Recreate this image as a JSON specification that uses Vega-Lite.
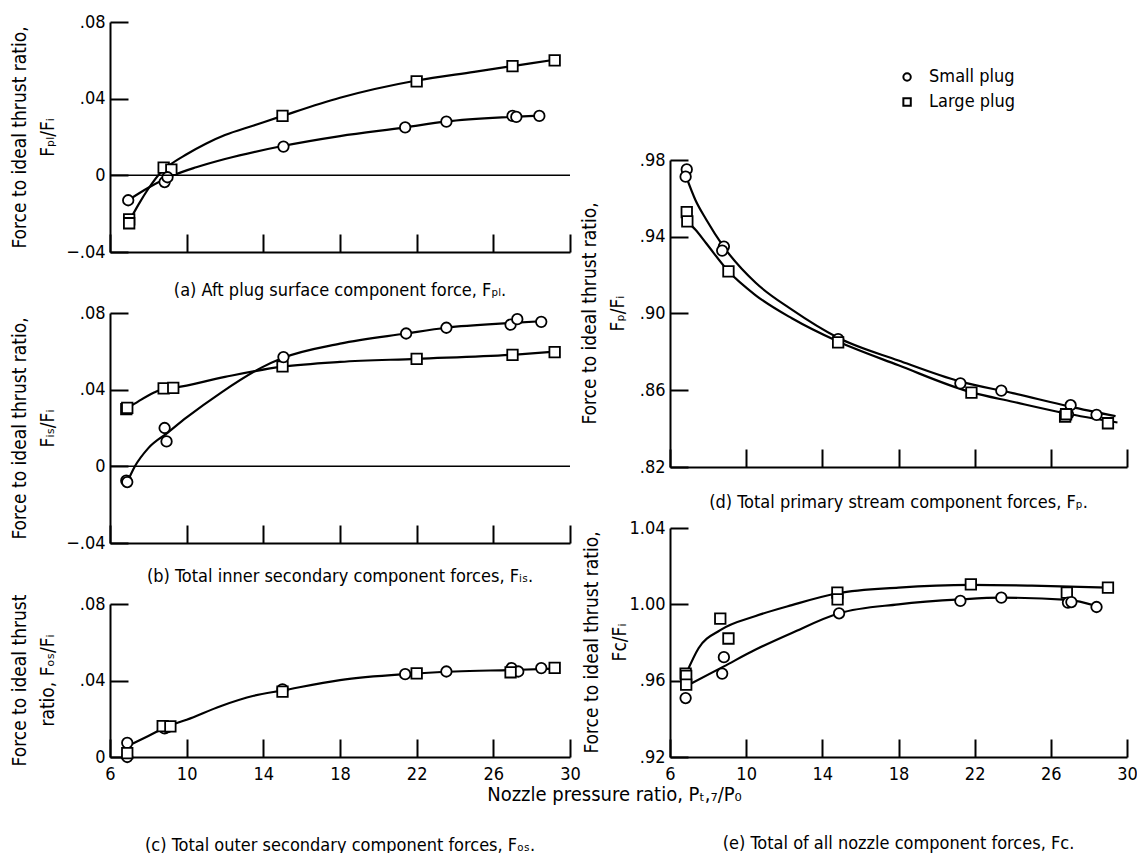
{
  "$schema": "https://vega.github.io/schema/vega-lite/v6.json",
  "padding": {"left": 9, "top": 13, "right": 0, "bottom": 0},
  "background": "white",
  "config": {
    "font": "DejaVu Sans Condensed, Roboto Condensed, Roboto, sans-serif",
    "view": {"stroke": null},
    "axis": {
      "domainColor": "black", "domainWidth": 2, "tickColor": "black", "tickWidth": 2, "tickSize": -18,
      "labelColor": "black", "labelFontSize": 18, "titleColor": "black", "titleFontSize": 19,
      "titleFontWeight": "normal", "grid": false, "labelFlush": false, "labelOverlap": false
    },
    "axisX": {"labelPadding": 26},
    "axisY": {"labelPadding": 23, "titleAngle": -90, "titleAlign": "center", "titleBaseline": "top", "titleLineHeight": 28},
    "title": {"fontSize": 18, "fontWeight": "normal", "color": "black", "orient": "bottom", "anchor": "middle", "frame": "group"}
  },
  "datasets": {
    "pts": [
      {"panel": "a", "plug": "Large plug", "x": 7.0, "y": -0.023},
      {"panel": "a", "plug": "Large plug", "x": 7.0, "y": -0.025},
      {"panel": "a", "plug": "Large plug", "x": 8.8, "y": 0.004},
      {"panel": "a", "plug": "Large plug", "x": 9.2, "y": 0.003},
      {"panel": "a", "plug": "Large plug", "x": 15.0, "y": 0.031},
      {"panel": "a", "plug": "Large plug", "x": 22.0, "y": 0.049},
      {"panel": "a", "plug": "Large plug", "x": 27.0, "y": 0.057},
      {"panel": "a", "plug": "Large plug", "x": 29.2, "y": 0.060},
      {"panel": "a", "plug": "Small plug", "x": 6.95, "y": -0.013},
      {"panel": "a", "plug": "Small plug", "x": 8.85, "y": -0.0035},
      {"panel": "a", "plug": "Small plug", "x": 9.0, "y": -0.001},
      {"panel": "a", "plug": "Small plug", "x": 15.05, "y": 0.015},
      {"panel": "a", "plug": "Small plug", "x": 21.4, "y": 0.025},
      {"panel": "a", "plug": "Small plug", "x": 23.55, "y": 0.028},
      {"panel": "a", "plug": "Small plug", "x": 27.0, "y": 0.031},
      {"panel": "a", "plug": "Small plug", "x": 27.2, "y": 0.0305},
      {"panel": "a", "plug": "Small plug", "x": 28.4, "y": 0.031},

      {"panel": "b", "plug": "Large plug", "x": 6.85, "y": 0.0298},
      {"panel": "b", "plug": "Large plug", "x": 6.9, "y": 0.0305},
      {"panel": "b", "plug": "Large plug", "x": 8.8, "y": 0.0407},
      {"panel": "b", "plug": "Large plug", "x": 9.3, "y": 0.0409},
      {"panel": "b", "plug": "Large plug", "x": 15.0, "y": 0.0521},
      {"panel": "b", "plug": "Large plug", "x": 22.0, "y": 0.0561},
      {"panel": "b", "plug": "Large plug", "x": 27.0, "y": 0.0582},
      {"panel": "b", "plug": "Large plug", "x": 29.2, "y": 0.0596},
      {"panel": "b", "plug": "Small plug", "x": 6.85, "y": -0.0075},
      {"panel": "b", "plug": "Small plug", "x": 6.9, "y": -0.0082},
      {"panel": "b", "plug": "Small plug", "x": 8.85, "y": 0.020},
      {"panel": "b", "plug": "Small plug", "x": 8.95, "y": 0.013},
      {"panel": "b", "plug": "Small plug", "x": 15.05, "y": 0.057},
      {"panel": "b", "plug": "Small plug", "x": 21.45, "y": 0.0693},
      {"panel": "b", "plug": "Small plug", "x": 23.55, "y": 0.0723},
      {"panel": "b", "plug": "Small plug", "x": 26.9, "y": 0.0739},
      {"panel": "b", "plug": "Small plug", "x": 27.25, "y": 0.0768},
      {"panel": "b", "plug": "Small plug", "x": 28.5, "y": 0.0754},

      {"panel": "c", "plug": "Small plug", "x": 6.9, "y": 0.0074},
      {"panel": "c", "plug": "Small plug", "x": 6.9, "y": 0.0},
      {"panel": "c", "plug": "Small plug", "x": 8.85, "y": 0.015},
      {"panel": "c", "plug": "Small plug", "x": 9.0, "y": 0.0156},
      {"panel": "c", "plug": "Small plug", "x": 15.0, "y": 0.0354},
      {"panel": "c", "plug": "Small plug", "x": 21.4, "y": 0.0433},
      {"panel": "c", "plug": "Small plug", "x": 23.55, "y": 0.0447},
      {"panel": "c", "plug": "Small plug", "x": 26.95, "y": 0.0465},
      {"panel": "c", "plug": "Small plug", "x": 27.3, "y": 0.0447},
      {"panel": "c", "plug": "Small plug", "x": 28.5, "y": 0.0465},
      {"panel": "c", "plug": "Large plug", "x": 6.9, "y": 0.002},
      {"panel": "c", "plug": "Large plug", "x": 8.75, "y": 0.0161},
      {"panel": "c", "plug": "Large plug", "x": 9.15, "y": 0.016},
      {"panel": "c", "plug": "Large plug", "x": 15.0, "y": 0.0342},
      {"panel": "c", "plug": "Large plug", "x": 22.0, "y": 0.0437},
      {"panel": "c", "plug": "Large plug", "x": 26.9, "y": 0.0443},
      {"panel": "c", "plug": "Large plug", "x": 29.2, "y": 0.0466},

      {"panel": "d", "plug": "Small plug", "x": 6.88, "y": 0.9751},
      {"panel": "d", "plug": "Small plug", "x": 6.82, "y": 0.9713},
      {"panel": "d", "plug": "Small plug", "x": 8.83, "y": 0.9349},
      {"panel": "d", "plug": "Small plug", "x": 8.74, "y": 0.9328},
      {"panel": "d", "plug": "Small plug", "x": 14.83, "y": 0.8867},
      {"panel": "d", "plug": "Small plug", "x": 21.25, "y": 0.8636},
      {"panel": "d", "plug": "Small plug", "x": 23.4, "y": 0.8598},
      {"panel": "d", "plug": "Small plug", "x": 27.04, "y": 0.8522},
      {"panel": "d", "plug": "Small plug", "x": 26.9, "y": 0.8475},
      {"panel": "d", "plug": "Small plug", "x": 28.4, "y": 0.8472},
      {"panel": "d", "plug": "Large plug", "x": 6.88, "y": 0.9528},
      {"panel": "d", "plug": "Large plug", "x": 6.91, "y": 0.948},
      {"panel": "d", "plug": "Large plug", "x": 9.07, "y": 0.922},
      {"panel": "d", "plug": "Large plug", "x": 14.83, "y": 0.885},
      {"panel": "d", "plug": "Large plug", "x": 21.83, "y": 0.8588},
      {"panel": "d", "plug": "Large plug", "x": 26.75, "y": 0.8462},
      {"panel": "d", "plug": "Large plug", "x": 26.8, "y": 0.8475},
      {"panel": "d", "plug": "Large plug", "x": 29.0, "y": 0.8428},

      {"panel": "e", "plug": "Large plug", "x": 6.82, "y": 0.9637},
      {"panel": "e", "plug": "Large plug", "x": 6.85, "y": 0.9625},
      {"panel": "e", "plug": "Large plug", "x": 6.85, "y": 0.9579},
      {"panel": "e", "plug": "Large plug", "x": 8.64, "y": 0.9925},
      {"panel": "e", "plug": "Large plug", "x": 9.07, "y": 0.9821},
      {"panel": "e", "plug": "Large plug", "x": 14.79, "y": 1.0061},
      {"panel": "e", "plug": "Large plug", "x": 14.8, "y": 1.0026},
      {"panel": "e", "plug": "Large plug", "x": 21.8, "y": 1.0105},
      {"panel": "e", "plug": "Large plug", "x": 26.84, "y": 1.0061},
      {"panel": "e", "plug": "Large plug", "x": 29.0, "y": 1.0088},
      {"panel": "e", "plug": "Small plug", "x": 6.82, "y": 0.9509},
      {"panel": "e", "plug": "Small plug", "x": 8.74, "y": 0.9637},
      {"panel": "e", "plug": "Small plug", "x": 8.83, "y": 0.9723},
      {"panel": "e", "plug": "Small plug", "x": 14.88, "y": 0.9953},
      {"panel": "e", "plug": "Small plug", "x": 21.25, "y": 1.0018},
      {"panel": "e", "plug": "Small plug", "x": 23.4, "y": 1.0035},
      {"panel": "e", "plug": "Small plug", "x": 26.9, "y": 1.0009},
      {"panel": "e", "plug": "Small plug", "x": 27.08, "y": 1.0012},
      {"panel": "e", "plug": "Small plug", "x": 28.4, "y": 0.9986}
    ],
    "curves": [
      {"panel": "a", "plug": "Large plug", "x": 7.0, "y": -0.024},
      {"panel": "a", "plug": "Large plug", "x": 7.5, "y": -0.015},
      {"panel": "a", "plug": "Large plug", "x": 8.0, "y": -0.007},
      {"panel": "a", "plug": "Large plug", "x": 8.6, "y": 0.001},
      {"panel": "a", "plug": "Large plug", "x": 9.2, "y": 0.006},
      {"panel": "a", "plug": "Large plug", "x": 10.0, "y": 0.011},
      {"panel": "a", "plug": "Large plug", "x": 11.0, "y": 0.0165},
      {"panel": "a", "plug": "Large plug", "x": 12.0, "y": 0.021},
      {"panel": "a", "plug": "Large plug", "x": 13.5, "y": 0.026},
      {"panel": "a", "plug": "Large plug", "x": 15.0, "y": 0.031},
      {"panel": "a", "plug": "Large plug", "x": 18.0, "y": 0.0405},
      {"panel": "a", "plug": "Large plug", "x": 22.0, "y": 0.0495},
      {"panel": "a", "plug": "Large plug", "x": 25.0, "y": 0.054},
      {"panel": "a", "plug": "Large plug", "x": 27.0, "y": 0.057},
      {"panel": "a", "plug": "Large plug", "x": 29.2, "y": 0.0603},
      {"panel": "a", "plug": "Small plug", "x": 6.95, "y": -0.013},
      {"panel": "a", "plug": "Small plug", "x": 8.0, "y": -0.0065},
      {"panel": "a", "plug": "Small plug", "x": 9.3, "y": 0.0},
      {"panel": "a", "plug": "Small plug", "x": 10.5, "y": 0.0042},
      {"panel": "a", "plug": "Small plug", "x": 12.0, "y": 0.0085},
      {"panel": "a", "plug": "Small plug", "x": 15.0, "y": 0.0153},
      {"panel": "a", "plug": "Small plug", "x": 18.0, "y": 0.0205},
      {"panel": "a", "plug": "Small plug", "x": 21.4, "y": 0.025},
      {"panel": "a", "plug": "Small plug", "x": 23.5, "y": 0.028},
      {"panel": "a", "plug": "Small plug", "x": 27.0, "y": 0.0305},
      {"panel": "a", "plug": "Small plug", "x": 28.4, "y": 0.0312},

      {"panel": "b", "plug": "Large plug", "x": 6.87, "y": 0.030},
      {"panel": "b", "plug": "Large plug", "x": 7.5, "y": 0.034},
      {"panel": "b", "plug": "Large plug", "x": 8.3, "y": 0.0385},
      {"panel": "b", "plug": "Large plug", "x": 8.8, "y": 0.0405},
      {"panel": "b", "plug": "Large plug", "x": 9.3, "y": 0.041},
      {"panel": "b", "plug": "Large plug", "x": 12.0, "y": 0.0467},
      {"panel": "b", "plug": "Large plug", "x": 15.0, "y": 0.052},
      {"panel": "b", "plug": "Large plug", "x": 18.0, "y": 0.0545},
      {"panel": "b", "plug": "Large plug", "x": 22.0, "y": 0.0561},
      {"panel": "b", "plug": "Large plug", "x": 27.0, "y": 0.0582},
      {"panel": "b", "plug": "Large plug", "x": 29.2, "y": 0.0598},
      {"panel": "b", "plug": "Small plug", "x": 6.87, "y": -0.009},
      {"panel": "b", "plug": "Small plug", "x": 7.3, "y": 0.0},
      {"panel": "b", "plug": "Small plug", "x": 8.0, "y": 0.0095},
      {"panel": "b", "plug": "Small plug", "x": 9.0, "y": 0.0175},
      {"panel": "b", "plug": "Small plug", "x": 10.0, "y": 0.0255},
      {"panel": "b", "plug": "Small plug", "x": 11.8, "y": 0.0385},
      {"panel": "b", "plug": "Small plug", "x": 13.9, "y": 0.0515},
      {"panel": "b", "plug": "Small plug", "x": 15.0, "y": 0.0565},
      {"panel": "b", "plug": "Small plug", "x": 18.0, "y": 0.064},
      {"panel": "b", "plug": "Small plug", "x": 21.45, "y": 0.0693},
      {"panel": "b", "plug": "Small plug", "x": 23.55, "y": 0.0723},
      {"panel": "b", "plug": "Small plug", "x": 27.0, "y": 0.0748},
      {"panel": "b", "plug": "Small plug", "x": 28.5, "y": 0.0757},

      {"panel": "c", "plug": "Both", "x": 6.9, "y": 0.0056},
      {"panel": "c", "plug": "Both", "x": 8.0, "y": 0.011},
      {"panel": "c", "plug": "Both", "x": 9.0, "y": 0.016},
      {"panel": "c", "plug": "Both", "x": 10.0, "y": 0.0195},
      {"panel": "c", "plug": "Both", "x": 11.8, "y": 0.0267},
      {"panel": "c", "plug": "Both", "x": 13.5, "y": 0.032},
      {"panel": "c", "plug": "Both", "x": 15.0, "y": 0.0348},
      {"panel": "c", "plug": "Both", "x": 18.0, "y": 0.0402},
      {"panel": "c", "plug": "Both", "x": 21.4, "y": 0.0433},
      {"panel": "c", "plug": "Both", "x": 24.0, "y": 0.0447},
      {"panel": "c", "plug": "Both", "x": 27.0, "y": 0.0455},
      {"panel": "c", "plug": "Both", "x": 29.2, "y": 0.0462},

      {"panel": "d", "plug": "Small plug", "x": 6.85, "y": 0.9713},
      {"panel": "d", "plug": "Small plug", "x": 7.34, "y": 0.959},
      {"panel": "d", "plug": "Small plug", "x": 7.9, "y": 0.949},
      {"panel": "d", "plug": "Small plug", "x": 8.8, "y": 0.935},
      {"panel": "d", "plug": "Small plug", "x": 10.5, "y": 0.916},
      {"panel": "d", "plug": "Small plug", "x": 12.4, "y": 0.902},
      {"panel": "d", "plug": "Small plug", "x": 14.8, "y": 0.8875},
      {"panel": "d", "plug": "Small plug", "x": 18.0, "y": 0.8755},
      {"panel": "d", "plug": "Small plug", "x": 21.25, "y": 0.8645},
      {"panel": "d", "plug": "Small plug", "x": 24.0, "y": 0.8585},
      {"panel": "d", "plug": "Small plug", "x": 27.0, "y": 0.8515},
      {"panel": "d", "plug": "Small plug", "x": 29.4, "y": 0.8465},
      {"panel": "d", "plug": "Large plug", "x": 6.9, "y": 0.948},
      {"panel": "d", "plug": "Large plug", "x": 7.34, "y": 0.9436},
      {"panel": "d", "plug": "Large plug", "x": 7.9, "y": 0.9366},
      {"panel": "d", "plug": "Large plug", "x": 9.07, "y": 0.922},
      {"panel": "d", "plug": "Large plug", "x": 10.5, "y": 0.9095},
      {"panel": "d", "plug": "Large plug", "x": 12.4, "y": 0.8975},
      {"panel": "d", "plug": "Large plug", "x": 14.8, "y": 0.8855},
      {"panel": "d", "plug": "Large plug", "x": 18.0, "y": 0.873},
      {"panel": "d", "plug": "Large plug", "x": 21.8, "y": 0.859},
      {"panel": "d", "plug": "Large plug", "x": 24.0, "y": 0.854},
      {"panel": "d", "plug": "Large plug", "x": 26.75, "y": 0.848},
      {"panel": "d", "plug": "Large plug", "x": 29.5, "y": 0.8432},

      {"panel": "e", "plug": "Large plug", "x": 6.85, "y": 0.9637},
      {"panel": "e", "plug": "Large plug", "x": 7.5, "y": 0.977},
      {"panel": "e", "plug": "Large plug", "x": 8.64, "y": 0.9865},
      {"panel": "e", "plug": "Large plug", "x": 10.5, "y": 0.9939},
      {"panel": "e", "plug": "Large plug", "x": 12.4, "y": 0.9996},
      {"panel": "e", "plug": "Large plug", "x": 14.8, "y": 1.0058},
      {"panel": "e", "plug": "Large plug", "x": 18.0, "y": 1.0088},
      {"panel": "e", "plug": "Large plug", "x": 21.8, "y": 1.0102},
      {"panel": "e", "plug": "Large plug", "x": 25.0, "y": 1.0098},
      {"panel": "e", "plug": "Large plug", "x": 29.0, "y": 1.0088},
      {"panel": "e", "plug": "Small plug", "x": 6.82, "y": 0.957},
      {"panel": "e", "plug": "Small plug", "x": 8.83, "y": 0.9675},
      {"panel": "e", "plug": "Small plug", "x": 10.5, "y": 0.9763},
      {"panel": "e", "plug": "Small plug", "x": 12.4, "y": 0.985},
      {"panel": "e", "plug": "Small plug", "x": 14.88, "y": 0.9953},
      {"panel": "e", "plug": "Small plug", "x": 18.0, "y": 1.0},
      {"panel": "e", "plug": "Small plug", "x": 21.25, "y": 1.0026},
      {"panel": "e", "plug": "Small plug", "x": 23.4, "y": 1.0035},
      {"panel": "e", "plug": "Small plug", "x": 26.9, "y": 1.0023},
      {"panel": "e", "plug": "Small plug", "x": 28.4, "y": 0.9991}
    ],
    "legend": [
      {"plug": "Small plug"},
      {"plug": "Large plug"}
    ]
  },
  "bounds": "flush",
  "spacing": 560,
  "hconcat": [
    {
      "bounds": "flush",
      "spacing": 61,
      "vconcat": [
        {
          "width": 460, "height": 230,
          "title": {"text": "(a) Aft plug surface component force, Fₚₗ.", "offset": 21},
          "layer": [
            {"data": {"name": "curves"}, "transform": [{"filter": "datum.panel === 'a'"}],
             "mark": {"type": "line", "interpolate": "monotone", "color": "black", "strokeWidth": 2.2},
             "encoding": {
               "x": {"field": "x", "type": "quantitative", "scale": {"domain": [6, 30], "nice": false, "zero": false}, "axis": {"values": [6, 10, 14, 18, 22, 26, 30], "labels": false, "title": null}},
               "y": {"field": "y", "type": "quantitative", "scale": {"domain": [-0.04, 0.08], "nice": false, "zero": false}, "axis": {"values": [-0.04, 0, 0.04, 0.08], "labelExpr": "datum.value == 0 ? '0' : replace(format(datum.value, '.2f'), '0.', '.')", "title": ["Force to ideal thrust ratio,", "Fₚₗ/Fᵢ"], "titleX": -100, "titleY": 115}},
               "detail": {"field": "plug"}}},
            {"data": {"name": "pts"}, "transform": [{"filter": "datum.panel === 'a'"}],
             "mark": {"type": "point", "filled": true, "fill": "white", "stroke": "black", "strokeWidth": 1.8, "size": 110, "opacity": 1},
             "encoding": {
               "x": {"field": "x", "type": "quantitative", "scale": {"domain": [6, 30], "nice": false, "zero": false}, "axis": {"values": [6, 10, 14, 18, 22, 26, 30], "labels": false, "title": null}},
               "y": {"field": "y", "type": "quantitative", "scale": {"domain": [-0.04, 0.08], "nice": false, "zero": false}, "axis": {"values": [-0.04, 0, 0.04, 0.08], "labelExpr": "datum.value == 0 ? '0' : replace(format(datum.value, '.2f'), '0.', '.')", "title": ["Force to ideal thrust ratio,", "Fₚₗ/Fᵢ"], "titleX": -100, "titleY": 115}},
               "shape": {"field": "plug", "type": "nominal", "scale": {"domain": ["Small plug", "Large plug"], "range": ["circle", "square"]}, "legend": null}}},
            {"data": {"values": [{}]}, "mark": {"type": "rule", "color": "black", "strokeWidth": 1.5}, "encoding": {"y": {"datum": 0}}}
          ]
        },
        {
          "width": 460, "height": 230,
          "title": {"text": "(b) Total inner secondary component forces, Fᵢₛ.", "offset": 16},
          "layer": [
            {"data": {"name": "curves"}, "transform": [{"filter": "datum.panel === 'b'"}],
             "mark": {"type": "line", "interpolate": "monotone", "color": "black", "strokeWidth": 2.2},
             "encoding": {
               "x": {"field": "x", "type": "quantitative", "scale": {"domain": [6, 30], "nice": false, "zero": false}, "axis": {"values": [6, 10, 14, 18, 22, 26, 30], "labels": false, "title": null}},
               "y": {"field": "y", "type": "quantitative", "scale": {"domain": [-0.04, 0.08], "nice": false, "zero": false}, "axis": {"values": [-0.04, 0, 0.04, 0.08], "labelExpr": "datum.value == 0 ? '0' : replace(format(datum.value, '.2f'), '0.', '.')", "title": ["Force to ideal thrust ratio,", "Fᵢₛ/Fᵢ"], "titleX": -100, "titleY": 115}},
               "detail": {"field": "plug"}}},
            {"data": {"name": "pts"}, "transform": [{"filter": "datum.panel === 'b'"}],
             "mark": {"type": "point", "filled": true, "fill": "white", "stroke": "black", "strokeWidth": 1.8, "size": 110, "opacity": 1},
             "encoding": {
               "x": {"field": "x", "type": "quantitative", "scale": {"domain": [6, 30], "nice": false, "zero": false}, "axis": {"values": [6, 10, 14, 18, 22, 26, 30], "labels": false, "title": null}},
               "y": {"field": "y", "type": "quantitative", "scale": {"domain": [-0.04, 0.08], "nice": false, "zero": false}, "axis": {"values": [-0.04, 0, 0.04, 0.08], "labelExpr": "datum.value == 0 ? '0' : replace(format(datum.value, '.2f'), '0.', '.')", "title": ["Force to ideal thrust ratio,", "Fᵢₛ/Fᵢ"], "titleX": -100, "titleY": 115}},
               "shape": {"field": "plug", "type": "nominal", "scale": {"domain": ["Small plug", "Large plug"], "range": ["circle", "square"]}, "legend": null}}},
            {"data": {"values": [{}]}, "mark": {"type": "rule", "color": "black", "strokeWidth": 1.5}, "encoding": {"y": {"datum": 0}}}
          ]
        },
        {
          "width": 460, "height": 153,
          "title": {"text": "(c) Total outer secondary component forces, Fₒₛ.", "offset": 33},
          "layer": [
            {"data": {"name": "curves"}, "transform": [{"filter": "datum.panel === 'c'"}],
             "mark": {"type": "line", "interpolate": "monotone", "color": "black", "strokeWidth": 2.2},
             "encoding": {
               "x": {"field": "x", "type": "quantitative", "scale": {"domain": [6, 30], "nice": false, "zero": false}, "axis": {"values": [6, 10, 14, 18, 22, 26, 30], "title": "Nozzle pressure ratio, Pₜ,₇/P₀", "titleX": 504, "titleY": 37, "titleAngle": 0, "titleAlign": "center", "titleBaseline": "middle", "titleFontSize": 20}},
               "y": {"field": "y", "type": "quantitative", "scale": {"domain": [0, 0.08], "nice": false, "zero": false}, "axis": {"values": [0, 0.04, 0.08], "labelExpr": "datum.value == 0 ? '0' : replace(format(datum.value, '.2f'), '0.', '.')", "title": ["Force to ideal thrust", "ratio, Fₒₛ/Fᵢ"], "titleX": -100, "titleY": 76}},
               "detail": {"field": "plug"}}},
            {"data": {"name": "pts"}, "transform": [{"filter": "datum.panel === 'c'"}],
             "mark": {"type": "point", "filled": true, "fill": "white", "stroke": "black", "strokeWidth": 1.8, "size": 110, "opacity": 1},
             "encoding": {
               "x": {"field": "x", "type": "quantitative", "scale": {"domain": [6, 30], "nice": false, "zero": false}, "axis": {"values": [6, 10, 14, 18, 22, 26, 30], "title": "Nozzle pressure ratio, Pₜ,₇/P₀", "titleX": 504, "titleY": 37, "titleAngle": 0, "titleAlign": "center", "titleBaseline": "middle", "titleFontSize": 20}},
               "y": {"field": "y", "type": "quantitative", "scale": {"domain": [0, 0.08], "nice": false, "zero": false}, "axis": {"values": [0, 0.04, 0.08], "labelExpr": "datum.value == 0 ? '0' : replace(format(datum.value, '.2f'), '0.', '.')", "title": ["Force to ideal thrust", "ratio, Fₒₛ/Fᵢ"], "titleX": -100, "titleY": 76}},
               "shape": {"field": "plug", "type": "nominal", "scale": {"domain": ["Small plug", "Large plug"], "range": ["circle", "square"]}, "legend": null}}}
          ]
        }
      ]
    },
    {
      "bounds": "flush",
      "spacing": 61,
      "vconcat": [
        {
          "width": 457, "height": 77,
          "data": {"name": "legend"},
          "encoding": {
            "x": {"datum": 18.45, "type": "quantitative", "scale": {"domain": [6, 30], "nice": false, "zero": false}, "axis": null},
            "y": {"field": "plug", "type": "nominal", "scale": {"type": "point", "domain": ["Small plug", "Large plug"], "range": [55, 80], "padding": 0}, "axis": null}
          },
          "layer": [
            {"mark": {"type": "point", "filled": true, "fill": "white", "stroke": "black", "strokeWidth": 2, "size": 55, "opacity": 1},
             "encoding": {"shape": {"field": "plug", "type": "nominal", "scale": {"domain": ["Small plug", "Large plug"], "range": ["circle", "square"]}, "legend": null}}},
            {"mark": {"type": "text", "align": "left", "baseline": "middle", "dx": 22, "fontSize": 18, "color": "black"},
             "encoding": {"text": {"field": "plug", "type": "nominal"}}}
          ]
        },
        {
          "width": 457, "height": 307,
          "title": {"text": "(d) Total primary stream component forces, Fₚ.", "offset": 18},
          "layer": [
            {"data": {"name": "curves"}, "transform": [{"filter": "datum.panel === 'd'"}],
             "mark": {"type": "line", "interpolate": "monotone", "color": "black", "strokeWidth": 2.2},
             "encoding": {
               "x": {"field": "x", "type": "quantitative", "scale": {"domain": [6, 30], "nice": false, "zero": false}, "axis": {"values": [6, 10, 14, 18, 22, 26, 30], "labels": false, "title": null}},
               "y": {"field": "y", "type": "quantitative", "scale": {"domain": [0.82, 0.98], "nice": false, "zero": false}, "axis": {"values": [0.82, 0.86, 0.9, 0.94, 0.98], "labelExpr": "replace(format(datum.value, '.2f'), '0.', '.')", "title": ["Force to ideal thrust ratio,", "Fₚ/Fᵢ"], "titleX": -90, "titleY": 153}},
               "detail": {"field": "plug"}}},
            {"data": {"name": "pts"}, "transform": [{"filter": "datum.panel === 'd'"}],
             "mark": {"type": "point", "filled": true, "fill": "white", "stroke": "black", "strokeWidth": 1.8, "size": 110, "opacity": 1},
             "encoding": {
               "x": {"field": "x", "type": "quantitative", "scale": {"domain": [6, 30], "nice": false, "zero": false}, "axis": {"values": [6, 10, 14, 18, 22, 26, 30], "labels": false, "title": null}},
               "y": {"field": "y", "type": "quantitative", "scale": {"domain": [0.82, 0.98], "nice": false, "zero": false}, "axis": {"values": [0.82, 0.86, 0.9, 0.94, 0.98], "labelExpr": "replace(format(datum.value, '.2f'), '0.', '.')", "title": ["Force to ideal thrust ratio,", "Fₚ/Fᵢ"], "titleX": -90, "titleY": 153}},
               "shape": {"field": "plug", "type": "nominal", "scale": {"domain": ["Small plug", "Large plug"], "range": ["circle", "square"]}, "legend": null}}}
          ]
        },
        {
          "width": 457, "height": 229,
          "title": {"text": "(e) Total of all nozzle component forces, Fc.", "offset": 52},
          "layer": [
            {"data": {"name": "curves"}, "transform": [{"filter": "datum.panel === 'e'"}],
             "mark": {"type": "line", "interpolate": "monotone", "color": "black", "strokeWidth": 2.2},
             "encoding": {
               "x": {"field": "x", "type": "quantitative", "scale": {"domain": [6, 30], "nice": false, "zero": false}, "axis": {"values": [6, 10, 14, 18, 22, 26, 30], "title": null}},
               "y": {"field": "y", "type": "quantitative", "scale": {"domain": [0.92, 1.04], "nice": false, "zero": false}, "axis": {"values": [0.92, 0.96, 1.0, 1.04], "labelExpr": "replace(format(datum.value, '.2f'), '0.', '.')", "title": ["Force to ideal thrust ratio,", "Fc/Fᵢ"], "titleX": -88, "titleY": 114}},
               "detail": {"field": "plug"}}},
            {"data": {"name": "pts"}, "transform": [{"filter": "datum.panel === 'e'"}],
             "mark": {"type": "point", "filled": true, "fill": "white", "stroke": "black", "strokeWidth": 1.8, "size": 110, "opacity": 1},
             "encoding": {
               "x": {"field": "x", "type": "quantitative", "scale": {"domain": [6, 30], "nice": false, "zero": false}, "axis": {"values": [6, 10, 14, 18, 22, 26, 30], "title": null}},
               "y": {"field": "y", "type": "quantitative", "scale": {"domain": [0.92, 1.04], "nice": false, "zero": false}, "axis": {"values": [0.92, 0.96, 1.0, 1.04], "labelExpr": "replace(format(datum.value, '.2f'), '0.', '.')", "title": ["Force to ideal thrust ratio,", "Fc/Fᵢ"], "titleX": -88, "titleY": 114}},
               "shape": {"field": "plug", "type": "nominal", "scale": {"domain": ["Small plug", "Large plug"], "range": ["circle", "square"]}, "legend": null}}}
          ]
        }
      ]
    }
  ]
}
